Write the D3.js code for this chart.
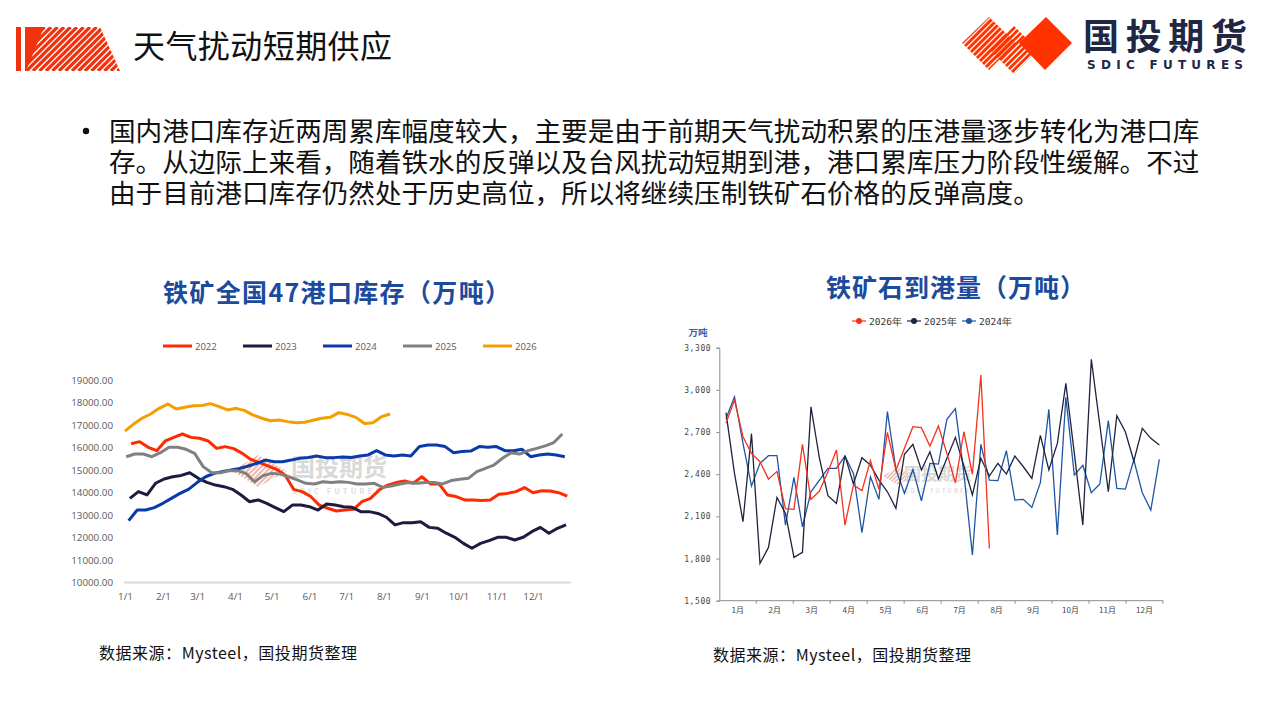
<!DOCTYPE html>
<html>
<head>
<meta charset="utf-8">
<title>天气扰动短期供应</title>
<script src="https://cdn.jsdelivr.net/npm/d3@7/dist/d3.min.js"></script>
<style>
  body { margin: 0; background: #fff; }
  svg { display: block; font-family: "Noto Sans CJK SC", "Noto Sans", sans-serif; }
</style>
</head>
<body>
<svg width="1280" height="720"></svg>
<script>

// ---- left chart: 47 port iron ore stocks, weekly ----
const stockYears = ['2022', '2023', '2024', '2025', '2026'];
const stockColors = ['#ff2a00', '#1d1b3e', '#0a3aa8', '#808080', '#f59e00'];
const stockFirstDay = [5, 4, 3, 1, 0];
const stock2022 = [16170,16260,16010,15860,16290,16450,16600,16450,16410,16290,15960,16040,15950,15740,15470,15330,15180,15030,14780,14140,14040,13820,13440,13300,13180,13220,13250,13590,13740,14110,14330,14440,14510,14410,14700,14380,14380,13890,13820,13670,13670,13640,13670,13920,13960,14040,14220,13990,14080,14070,13990,13840];
const stock2023 = [13740,14040,13890,14410,14600,14700,14760,14880,14630,14450,14330,14260,14140,13890,13590,13670,13520,13330,13150,13440,13440,13370,13220,13490,13440,13370,13340,13150,13150,13070,12900,12560,12660,12660,12700,12450,12410,12190,12010,11740,11520,11740,11860,12010,12010,11890,12010,12260,12450,12190,12410,12560];
const stock2024 = [12750,13220,13220,13330,13520,13740,13960,14140,14440,14700,14850,14930,15000,15070,15180,15300,15440,15370,15370,15440,15520,15560,15620,15550,15550,15580,15560,15620,15670,15860,15670,15620,15670,15620,16040,16110,16110,16040,15770,15820,15840,16040,16010,16040,15860,15860,15920,15590,15670,15710,15670,15590];
const stock2025 = [15590,15710,15710,15590,15770,16010,16010,15920,15740,15150,14880,14880,14970,14970,14850,14480,14750,14850,14820,14700,14560,14410,14380,14480,14440,14480,14450,14380,14380,14410,14230,14290,14380,14440,14410,14440,14440,14380,14530,14590,14630,14930,15070,15220,15520,15770,15710,15860,15960,16070,16220,16600];
const stock2026 = [16730,17040,17300,17490,17740,17930,17710,17790,17860,17870,17950,17820,17670,17740,17640,17440,17300,17190,17220,17150,17100,17120,17210,17300,17340,17550,17470,17340,17070,17100,17370,17490];
const stockSeries = [stock2022, stock2023, stock2024, stock2025, stock2026];
const stockTickLabels = ['1/1','2/1','3/1','4/1','5/1','6/1','7/1','8/1','9/1','10/1','11/1','12/1'];
const stockTickDays = [0, 31, 59, 90, 120, 151, 181, 212, 243, 273, 304, 334];
const stockYTicks = [10000, 11000, 12000, 13000, 14000, 15000, 16000, 17000, 18000, 19000];

// ---- right chart: iron ore arrivals, weekly ----
const arrivalYears = ['2026年', '2025年', '2024年'];
const arrivalColors = ['#f5321e', '#1f2340', '#1f55a5'];
const arrival2026 = [2762,2928,2667,2548,2489,2365,2420,2155,2150,2612,2221,2280,2418,2572,2038,2323,2283,2496,2292,2698,2430,2584,2738,2731,2600,2743,2548,2339,2702,2399,3105,1872];
const arrival2025 = [2838,2406,2062,2690,1766,1879,2235,2121,1808,1844,2880,2513,2247,2192,2532,2330,2517,2465,2358,2275,2157,2541,2612,2430,2560,2366,2513,2662,2458,2252,2513,2387,2477,2401,2529,2453,2370,2676,2430,2619,3046,2548,2038,3217,2750,2275,2816,2702,2494,2726,2655,2607];
const arrival2024 = [2797,2951,2619,2316,2477,2532,2532,2038,2377,2026,2275,2358,2441,2441,2529,2406,1984,2382,2221,2845,2434,2264,2434,2211,2477,2472,2790,2866,2406,1825,2612,2358,2354,2567,2216,2221,2164,2340,2861,1967,2947,2394,2463,2268,2330,2781,2299,2294,2501,2268,2145,2506];
const arrivalSeries = [arrival2026, arrival2025, arrival2024];
const arrivalMonths = ['1月','2月','3月','4月','5月','6月','7月','8月','9月','10月','11月','12月'];
const arrivalYTicks = [1500, 1800, 2100, 2400, 2700, 3000, 3300];

const bodyLines = [
  '国内港口库存近两周累库幅度较大，主要是由于前期天气扰动积累的压港量逐步转化为港口库',
  '存。从边际上来看，随着铁水的反弹以及台风扰动短期到港，港口累库压力阶段性缓解。不过',
  '由于目前港口库存仍然处于历史高位，所以将继续压制铁矿石价格的反弹高度。'
];

let svg = d3.select('svg');
svg.append('rect').attr('width', 1280).attr('height', 720).attr('fill', '#fff');
let defs = svg.append('defs');

// striped shape helper: diagonal "/" stripes clipped to a polygon
let stripes = (id, poly, x0, x1, y0, y1, step, w, color) => {
  defs.append('clipPath').attr('id', id)
    .append('polygon').attr('points', poly.map(p => p.join(',')).join(' '));
  let g = svg.append('g').attr('clip-path', 'url(#' + id + ')');
  let h = y1 - y0;
  for (let x = x0 - h; x < x1 + h; x += step) {
    g.append('line')
      .attr('x1', x).attr('y1', y1).attr('x2', x + h).attr('y2', y0)
      .attr('stroke', color).attr('stroke-width', w);
  }
  return g;
};

// ---- header ----
svg.append('rect').attr('x', 16).attr('y', 27).attr('width', 5).attr('height', 44).attr('fill', '#f0320f');
let lg = stripes('logoL', [[25,27],[100,27],[120,71],[25,71]], 25, 120, 27, 71, 6.5, 3.2, '#f0320f');
lg.append('polygon').attr('points', '25,27 44,27 26,71 25,71').attr('fill', '#f0320f');

svg.append('text').attr('x', 133).attr('y', 58)
  .attr('font-size', 32).attr('fill', '#111').attr('font-weight', 400)
  .attr('textLength', 259).attr('lengthAdjust', 'spacing')
  .text('天气扰动短期供应');

// right logo
stripes('logoR1', [[962,43],[989,17],[1016,43],[989,70]], 960, 1020, 15, 72, 6, 3, '#ff3300');
stripes('logoR2', [[990,50],[1014,26],[1038,50],[1014,74]], 988, 1040, 24, 76, 6, 3, '#ff3300');
svg.append('polygon').attr('points', '1046,17 1072,43 1045,70 1019,43').attr('fill', '#ff3300');
svg.append('text').attr('x', 1083).attr('y', 50)
  .attr('font-size', 36).attr('font-weight', 700).attr('fill', '#1f2745')
  .attr('textLength', 164).attr('lengthAdjust', 'spacing')
  .text('国投期货');
svg.append('text').attr('x', 1087).attr('y', 68.5)
  .attr('font-family', 'DejaVu Sans, sans-serif')
  .attr('font-size', 12).attr('font-weight', 700).attr('fill', '#1f2745')
  .attr('textLength', 156).attr('lengthAdjust', 'spacing')
  .text('SDIC FUTURES');

// ---- bullet text ----
// Liberation Sans first keeps the line box compact; CJK glyphs fall back to Noto Sans CJK
svg.append('circle').attr('cx', 86).attr('cy', 131).attr('r', 3.2).attr('fill', '#111');
bodyLines.forEach((t, i) => {
  svg.append('text').attr('x', 109).attr('y', 141 + i * 31)
    .attr('font-family', '"Liberation Sans", "Noto Sans CJK SC", sans-serif')
    .attr('font-size', 26.6).attr('fill', '#111')
    .text(t);
});

// ---- left chart ----
svg.append('text').attr('x', 163).attr('y', 302)
  .attr('font-size', 25).attr('font-weight', 700).attr('fill', '#1c4b9e')
  .attr('textLength', 347).attr('lengthAdjust', 'spacing')
  .text('铁矿全国47港口库存（万吨）');

let xL = d3.scaleLinear().domain([0, 365]).range([125, 570.9]);
let yL = d3.scaleLinear().domain([10000, 19000]).range([582.5, 380]);

// watermark
stripes('wmL', [[232,471],[258,455],[287,471],[258,487]], 230, 290, 453, 489, 5, 2, '#f4b8ac');
svg.append('text').attr('x', 291).attr('y', 476).attr('font-size', 24).attr('font-weight', 700)
  .attr('fill', '#d9d9d9').text('国投期货');
svg.append('text').attr('x', 292).attr('y', 494).attr('font-size', 7.5).attr('font-weight', 700)
  .attr('fill', '#dedede').attr('textLength', 88).text('SDIC FUTURES');

svg.append('line').attr('x1', 124).attr('x2', 571).attr('y1', 582.5).attr('y2', 582.5)
  .attr('stroke', '#d9d9d9').attr('stroke-width', 2);

let gyL = svg.append('g').attr('transform', 'translate(113,0)')
  .call(d3.axisLeft(yL).tickValues(stockYTicks).tickFormat(d3.format('.2f')).tickSize(0).tickPadding(0));
gyL.select('.domain').remove();
gyL.selectAll('text').attr('font-family', 'Open Sans, sans-serif').attr('font-size', 9.8).attr('fill', '#595959');

let gxL = svg.append('g').attr('transform', 'translate(0,593)')
  .call(d3.axisBottom(xL).tickValues(stockTickDays).tickFormat((d, i) => stockTickLabels[i]).tickSize(0).tickPadding(0));
gxL.select('.domain').remove();
gxL.selectAll('text').attr('font-family', 'Open Sans, sans-serif').attr('font-size', 9.8).attr('fill', '#595959');

let lineL = (first) => d3.line().x((d, i) => xL(first + i * 7)).y(d => yL(d)).curve(d3.curveLinear);
stockSeries.forEach((s, k) => {
  svg.append('path').datum(s)
    .attr('d', lineL(stockFirstDay[k]))
    .attr('fill', 'none').attr('stroke', stockColors[k]).attr('stroke-width', 3)
    .attr('stroke-linejoin', 'round');
});

stockYears.forEach((y, k) => {
  let x = 163 + k * 80;
  svg.append('line').attr('x1', x).attr('x2', x + 29).attr('y1', 346).attr('y2', 346)
    .attr('stroke', stockColors[k]).attr('stroke-width', 3);
  svg.append('text').attr('x', x + 32).attr('y', 349.5)
    .attr('font-family', 'Open Sans, sans-serif').attr('font-size', 9.5).attr('fill', '#595959')
    .text(y);
});

// ---- right chart ----
svg.append('text').attr('x', 826).attr('y', 297)
  .attr('font-size', 25).attr('font-weight', 700).attr('fill', '#1c4b9e')
  .attr('textLength', 259).attr('lengthAdjust', 'spacing')
  .text('铁矿石到港量（万吨）');

let xM = d3.scaleBand().domain(arrivalMonths).range([719.3, 1163]);
let xW = d3.scaleLinear().domain([0, 51]).range([726, 1159.3]);
let yR = d3.scaleLinear().domain([1500, 3300]).range([600.7, 347.7]);

// watermark
stripes('wmR', [[883,476],[898,467],[913,476],[898,485]], 880, 916, 465, 487, 4, 1.6, '#f4b8ac');
svg.append('text').attr('x', 904).attr('y', 480).attr('font-size', 17).attr('font-weight', 700)
  .attr('fill', '#d9d9d9').text('国投期货');
svg.append('text').attr('x', 905).attr('y', 493).attr('font-size', 5.5).attr('font-weight', 700)
  .attr('fill', '#e0e0e0').attr('textLength', 64).text('SDIC FUTURES');

let gyR = svg.append('g').attr('transform', 'translate(719.3,0)')
  .call(d3.axisLeft(yR).tickValues(arrivalYTicks).tickFormat(d3.format(',')).tickSize(3).tickPadding(5));
gyR.select('.domain').attr('stroke', '#8c8c8c');
gyR.selectAll('line').attr('stroke', '#8c8c8c');
gyR.selectAll('text').attr('font-family', 'DejaVu Sans Mono, monospace').attr('font-size', 8)
  .attr('fill', '#444').attr('letter-spacing', 0.6);

let gxR = svg.append('g').attr('transform', 'translate(0,600.7)');
gxR.append('line').attr('x1', 719.3).attr('x2', 1163).attr('stroke', '#8c8c8c');
arrivalMonths.forEach(m => {
  gxR.append('line').attr('x1', xM(m) + xM.bandwidth()).attr('x2', xM(m) + xM.bandwidth())
    .attr('y1', 0).attr('y2', 3).attr('stroke', '#8c8c8c');
  gxR.append('text').attr('x', xM(m) + xM.bandwidth() / 2).attr('y', 12)
    .attr('text-anchor', 'middle').attr('font-size', 8).attr('fill', '#444').text(m);
});

svg.append('text').attr('x', 698).attr('y', 336).attr('text-anchor', 'middle')
  .attr('font-size', 9.5).attr('font-weight', 700).attr('fill', '#3a5ba8').text('万吨');

let lineR = d3.line().x((d, i) => xW(i)).y(d => yR(d));
[2, 1, 0].forEach(k => {
  svg.append('path').datum(arrivalSeries[k])
    .attr('d', lineR)
    .attr('fill', 'none').attr('stroke', arrivalColors[k]).attr('stroke-width', 1.3);
});

arrivalYears.forEach((y, k) => {
  let x = 852 + k * 55;
  svg.append('line').attr('x1', x).attr('x2', x + 14).attr('y1', 321).attr('y2', 321)
    .attr('stroke', arrivalColors[k]).attr('stroke-width', 1.2);
  svg.append('circle').attr('cx', x + 7).attr('cy', 321).attr('r', 3).attr('fill', arrivalColors[k]);
  svg.append('text').attr('x', x + 17).attr('y', 324.5)
    .attr('font-family', 'DejaVu Sans Mono, monospace').attr('font-size', 9.5).attr('fill', '#333')
    .text(y);
});

// ---- sources ----
svg.append('text').attr('x', 99).attr('y', 659).attr('font-size', 16).attr('fill', '#111')
  .attr('textLength', 258).attr('lengthAdjust', 'spacing')
  .text('数据来源：Mysteel，国投期货整理');
svg.append('text').attr('x', 713).attr('y', 661).attr('font-size', 16).attr('fill', '#111')
  .attr('textLength', 258).attr('lengthAdjust', 'spacing')
  .text('数据来源：Mysteel，国投期货整理');

</script>
</body>
</html>
